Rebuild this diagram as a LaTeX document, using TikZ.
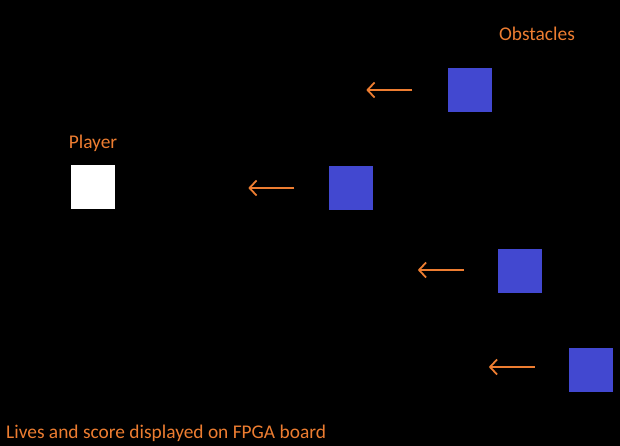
\documentclass[tikz,border=0pt]{standalone}
\usepackage{fontspec}
\setmainfont{Carlito}
\usetikzlibrary{arrows.meta}
\definecolor{obsblue}{RGB}{66,72,208}
\definecolor{orng}{RGB}{237,125,49}
\begin{document}
\begin{tikzpicture}[x=1pt,y=-1pt,
  sq/.style={minimum size=44pt,inner sep=0pt,draw=none},
  obs/.style={sq,fill=obsblue},
  lbl/.style={text=orng,font=\fontsize{19.4}{23}\selectfont,inner sep=0pt},
  mv/.style={draw=orng,line width=1.8pt,-{Straight Barb[length=7pt,width=15pt,line width=1.8pt]}}]
\fill[black] (0,0) rectangle (620,446);
\useasboundingbox (0,0) rectangle (620,446);
\node[obs] (o1) at (469.5,90) {};
\node[obs] (o2) at (350.5,188.5) {};
\node[obs] (o3) at (520,271) {};
\node[obs] (o4) at (591,369.5) {};
\node[sq,fill=white] (pl) at (92.5,187.5) {};
\node[lbl] (tp) at (93,143.5) {Player};
\node[lbl] (to) at (537,34) {Obstacles};
\node[lbl,anchor=west] (tb) at (6,433) {Lives and score displayed on FPGA board};
\draw[mv] ([xshift=-35pt]o1.west) -- ([xshift=-81pt]o1.west);
\draw[mv] ([xshift=-34pt,yshift=0.5pt]o2.west) -- ([xshift=-80pt,yshift=0.5pt]o2.west);
\draw[mv] ([xshift=-34pt,yshift=1pt]o3.west) -- ([xshift=-80pt,yshift=1pt]o3.west);
\draw[mv] ([xshift=-34pt,yshift=2.5pt]o4.west) -- ([xshift=-80pt,yshift=2.5pt]o4.west);
\end{tikzpicture}
\end{document}
